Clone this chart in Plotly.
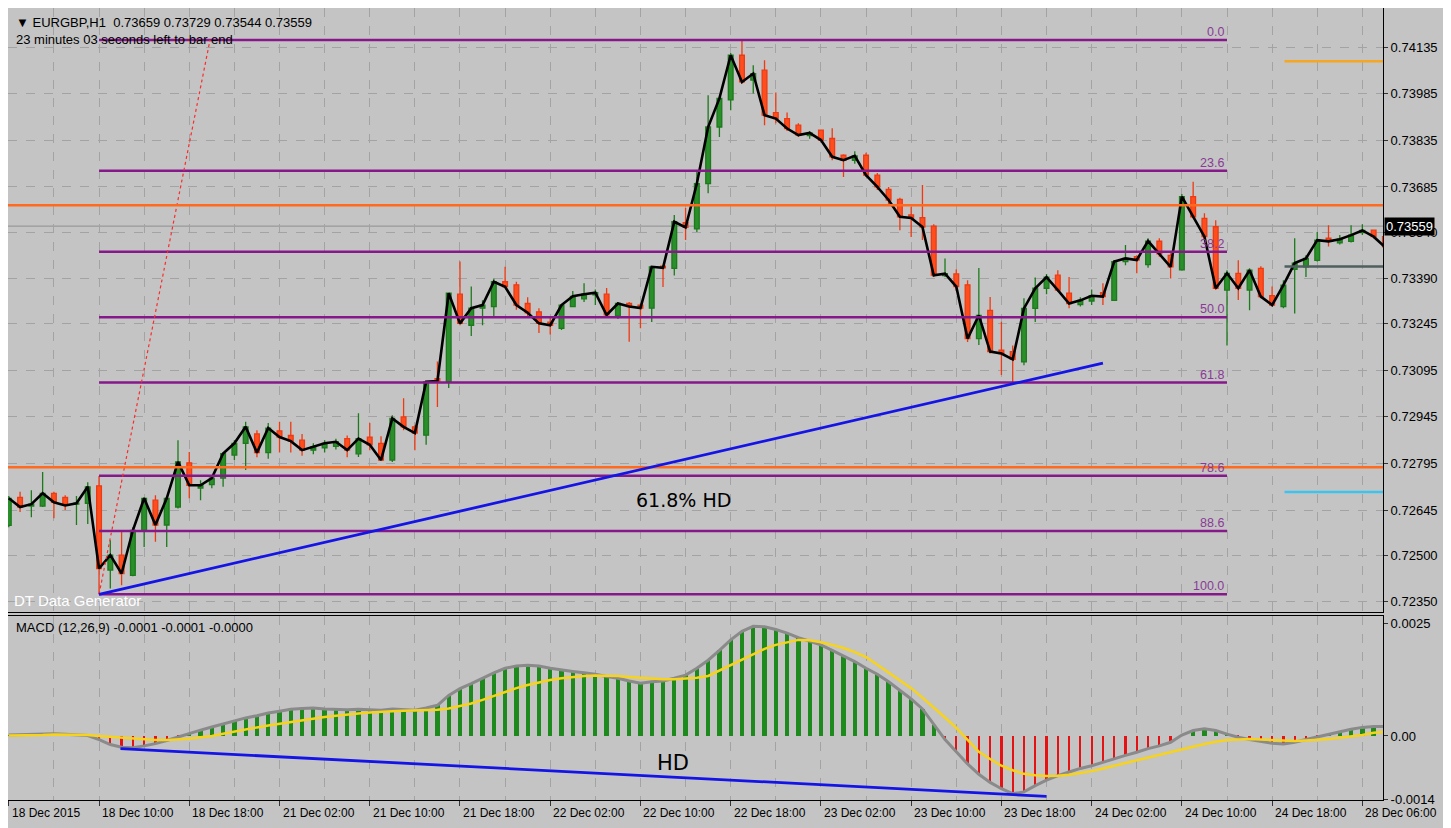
import plotly.graph_objects as go

# ---------------- data ----------------
bar_index = list(range(-8, 115))   # 0 = 18 Dec 10:00 (H1 bars)

open_ = [0.72596, 0.72686, 0.72658, 0.72658, 0.72699, 0.72686, 0.72664, 0.72667,
         0.72723, 0.72452, 0.72500, 0.72435, 0.72580, 0.72677, 0.72597, 0.72655,
         0.72797, 0.72716, 0.72727, 0.72748, 0.72822, 0.72860, 0.72890, 0.72830,
         0.72900, 0.72885, 0.72870, 0.72838, 0.72845, 0.72850, 0.72875, 0.72826,
         0.72880, 0.72860, 0.72806, 0.72945, 0.72913, 0.72886, 0.73068, 0.73058,
         0.73340, 0.73240, 0.73295, 0.73300, 0.73380, 0.73370, 0.73310, 0.73283,
         0.73250, 0.73230, 0.73300, 0.73325, 0.73338, 0.73340, 0.73270, 0.73310,
         0.73305, 0.73295, 0.73430, 0.73423, 0.73570, 0.73550, 0.73696, 0.73878,
         0.73965, 0.74109, 0.74029, 0.74061, 0.73924, 0.73905, 0.73884, 0.73850,
         0.73868, 0.73841, 0.73787, 0.73771, 0.73787, 0.73723, 0.73677, 0.73645,
         0.73595, 0.73586, 0.73559, 0.73400, 0.73405, 0.73370, 0.73197, 0.73288,
         0.73160, 0.73155, 0.73122, 0.73294, 0.73359, 0.73401, 0.73343, 0.73306,
         0.73318, 0.73345, 0.73320, 0.73445, 0.73461, 0.73435, 0.73511, 0.73465,
         0.73418, 0.73654, 0.73584, 0.73557, 0.73353, 0.73407, 0.73353, 0.73423,
         0.73335, 0.73300, 0.73420, 0.73428, 0.73449, 0.73520, 0.73505, 0.73510,
         0.73538, 0.73546, 0.73525]
high = [0.72690, 0.72704, 0.72709, 0.72768, 0.72704, 0.72693, 0.72690, 0.72735,
        0.72755, 0.72548, 0.72580, 0.72590, 0.72686, 0.72693, 0.72690, 0.72870,
        0.72832, 0.72741, 0.72758, 0.72830, 0.72870, 0.72929, 0.72902, 0.72925,
        0.72929, 0.72929, 0.72890, 0.72860, 0.72870, 0.72875, 0.72885, 0.72957,
        0.72925, 0.72883, 0.72950, 0.73005, 0.72918, 0.73060, 0.73123, 0.73345,
        0.73445, 0.73365, 0.73320, 0.73390, 0.73428, 0.73380, 0.73330, 0.73295,
        0.73270, 0.73308, 0.73350, 0.73375, 0.73355, 0.73360, 0.73315, 0.73315,
        0.73310, 0.73430, 0.73433, 0.73595, 0.73617, 0.73735, 0.73980, 0.73972,
        0.74116, 0.74158, 0.74077, 0.74093, 0.73989, 0.73925, 0.73890, 0.73865,
        0.73870, 0.73874, 0.73790, 0.73800, 0.73795, 0.73730, 0.73685, 0.73650,
        0.73621, 0.73691, 0.73565, 0.73455, 0.73420, 0.73385, 0.73424, 0.73331,
        0.73251, 0.73175, 0.73327, 0.73394, 0.73405, 0.73417, 0.73395, 0.73330,
        0.73355, 0.73375, 0.73450, 0.73498, 0.73465, 0.73520, 0.73520, 0.73472,
        0.73662, 0.73702, 0.73600, 0.73578, 0.73417, 0.73449, 0.73423, 0.73430,
        0.73365, 0.73385, 0.73520, 0.73465, 0.73540, 0.73562, 0.73530, 0.73562,
        0.73565, 0.73548, 0.73530]
low = [0.72590, 0.72639, 0.72622, 0.72655, 0.72619, 0.72645, 0.72597, 0.72600,
       0.72374, 0.72393, 0.72403, 0.72432, 0.72526, 0.72543, 0.72526, 0.72650,
       0.72683, 0.72677, 0.72715, 0.72720, 0.72806, 0.72774, 0.72815, 0.72810,
       0.72830, 0.72830, 0.72820, 0.72825, 0.72830, 0.72840, 0.72815, 0.72816,
       0.72838, 0.72806, 0.72800, 0.72902, 0.72838, 0.72855, 0.72977, 0.73038,
       0.73240, 0.73205, 0.73240, 0.73270, 0.73360, 0.73290, 0.73265, 0.73215,
       0.73210, 0.73225, 0.73298, 0.73315, 0.73305, 0.73270, 0.73260, 0.73187,
       0.73230, 0.73250, 0.73363, 0.73400, 0.73514, 0.73540, 0.73665, 0.73846,
       0.73932, 0.74018, 0.73986, 0.73884, 0.73890, 0.73865, 0.73846, 0.73840,
       0.73835, 0.73771, 0.73717, 0.73760, 0.73717, 0.73675, 0.73630, 0.73546,
       0.73524, 0.73514, 0.73395, 0.73395, 0.73350, 0.73186, 0.73176, 0.73149,
       0.73080, 0.73057, 0.73111, 0.73250, 0.73340, 0.73348, 0.73295, 0.73300,
       0.73305, 0.73305, 0.73318, 0.73433, 0.73407, 0.73425, 0.73460, 0.73390,
       0.73415, 0.73584, 0.73520, 0.73353, 0.73175, 0.73321, 0.73288, 0.73327,
       0.73300, 0.73295, 0.73278, 0.73395, 0.73445, 0.73493, 0.73500, 0.73506,
       0.73530, 0.73520, 0.73480]
close = [0.72683, 0.72655, 0.72664, 0.72699, 0.72670, 0.72660, 0.72667, 0.72720,
         0.72457, 0.72500, 0.72441, 0.72580, 0.72683, 0.72597, 0.72683, 0.72800,
         0.72725, 0.72725, 0.72748, 0.72827, 0.72860, 0.72913, 0.72830, 0.72909,
         0.72880, 0.72867, 0.72838, 0.72848, 0.72860, 0.72865, 0.72838, 0.72875,
         0.72855, 0.72806, 0.72940, 0.72913, 0.72893, 0.73058, 0.73060, 0.73343,
         0.73246, 0.73295, 0.73305, 0.73380, 0.73364, 0.73305, 0.73280, 0.73246,
         0.73240, 0.73305, 0.73333, 0.73340, 0.73345, 0.73273, 0.73310, 0.73300,
         0.73295, 0.73428, 0.73425, 0.73573, 0.73555, 0.73696, 0.73878, 0.73970,
         0.74109, 0.74023, 0.74050, 0.73916, 0.73905, 0.73873, 0.73852, 0.73859,
         0.73836, 0.73782, 0.73771, 0.73785, 0.73723, 0.73685, 0.73643, 0.73589,
         0.73585, 0.73556, 0.73401, 0.73406, 0.73364, 0.73197, 0.73272, 0.73155,
         0.73149, 0.73130, 0.73294, 0.73359, 0.73395, 0.73353, 0.73310, 0.73320,
         0.73335, 0.73332, 0.73445, 0.73455, 0.73450, 0.73511, 0.73470, 0.73428,
         0.73654, 0.73589, 0.73525, 0.73359, 0.73407, 0.73359, 0.73417, 0.73332,
         0.73305, 0.73369, 0.73440, 0.73455, 0.73514, 0.73510, 0.73517, 0.73530,
         0.73545, 0.73525, 0.73492]

macd_main = [0.00002, 0.00003, 0.00004, 0.00005, 0.00005, 0.00004, 0.00003, 0.00001,
             -0.00008, -0.00019, -0.00025, -0.00026, -0.00022, -0.00017, -0.00010, -0.00002,
             0.00006, 0.00013, 0.00020, 0.00027, 0.00033, 0.00040, 0.00045, 0.00051,
             0.00055, 0.00059, 0.00061, 0.00062, 0.00060, 0.00059, 0.00058, 0.00059,
             0.00058, 0.00057, 0.00060, 0.00059, 0.00057, 0.00062, 0.00068, 0.00090,
             0.00105, 0.00116, 0.00128, 0.00140, 0.00150, 0.00155, 0.00157, 0.00155,
             0.00150, 0.00146, 0.00143, 0.00140, 0.00137, 0.00132, 0.00128, 0.00122,
             0.00117, 0.00120, 0.00122, 0.00128, 0.00135, 0.00150, 0.00168, 0.00190,
             0.00213, 0.00232, 0.00243, 0.00242, 0.00236, 0.00228, 0.00218, 0.00210,
             0.00202, 0.00190, 0.00178, 0.00165, 0.00150, 0.00137, 0.00120, 0.00102,
             0.00082, 0.00060, 0.00025, -0.00008, -0.00035, -0.00062, -0.00085, -0.00103,
             -0.00117, -0.00128, -0.00124, -0.00110, -0.00098, -0.00088, -0.00080, -0.00072,
             -0.00066, -0.00058, -0.00050, -0.00043, -0.00036, -0.00028, -0.00022, -0.00014,
             0.00002, 0.00012, 0.00016, 0.00012, 0.00004, -0.00003, -0.00008, -0.00012,
             -0.00016, -0.00018, -0.00014, -0.00008, -0.00002, 0.00004, 0.00010, 0.00015,
             0.00019, 0.00021, 0.00021]
macd_signal = [0.00001, 0.00001, 0.00002, 0.00002, 0.00003, 0.00003, 0.00003, 0.00002,
               0.00000, -0.00002, -0.00004, -0.00006, -0.00008, -0.00009, -0.00009, -0.00008,
               -0.00006, -0.00003, 0.00000, 0.00005, 0.00010, 0.00014, 0.00019, 0.00023,
               0.00027, 0.00031, 0.00035, 0.00039, 0.00042, 0.00045, 0.00048, 0.00050,
               0.00052, 0.00054, 0.00055, 0.00056, 0.00057, 0.00057, 0.00058, 0.00061,
               0.00066, 0.00072, 0.00080, 0.00089, 0.00098, 0.00106, 0.00113, 0.00119,
               0.00124, 0.00128, 0.00131, 0.00133, 0.00134, 0.00134, 0.00133, 0.00131,
               0.00129, 0.00127, 0.00126, 0.00126, 0.00127, 0.00129, 0.00133, 0.00145,
               0.00157, 0.00170, 0.00182, 0.00193, 0.00202, 0.00208, 0.00213, 0.00212,
               0.00208, 0.00202, 0.00195, 0.00186, 0.00175, 0.00158, 0.00140, 0.00123,
               0.00106, 0.00085, 0.00064, 0.00041, 0.00018, -0.00008, -0.00035, -0.00051,
               -0.00066, -0.00076, -0.00084, -0.00087, -0.00089, -0.00088, -0.00086, -0.00082,
               -0.00078, -0.00072, -0.00066, -0.00060, -0.00053, -0.00048, -0.00042, -0.00035,
               -0.00029, -0.00023, -0.00018, -0.00013, -0.00009, -0.00008, -0.00007, -0.00008,
               -0.00009, -0.00010, -0.00011, -0.00010, -0.00009, -0.00007, -0.00004, -0.00001,
               0.00002, 0.00007, 0.00009]

price_ticks = [0.74135, 0.73985, 0.73835, 0.73685, 0.73540, 0.73390, 0.73245,
               0.73095, 0.72945, 0.72795, 0.72645, 0.72500, 0.72350]
macd_ticks = [0.0025, 0.0, -0.0014]
macd_tick_text = ["0.0025", "0.00", "-0.0014"]

time_tick_idx = [-8, 0, 8, 16, 24, 32, 40, 48, 56, 64, 72, 80, 88, 96, 104, 112]
time_tick_text = ["18 Dec 2015", "18 Dec 10:00", "18 Dec 18:00", "21 Dec 02:00",
                  "21 Dec 10:00", "21 Dec 18:00", "22 Dec 02:00", "22 Dec 10:00",
                  "22 Dec 18:00", "23 Dec 02:00", "23 Dec 10:00", "23 Dec 18:00",
                  "24 Dec 02:00", "24 Dec 10:00", "24 Dec 18:00", "28 Dec 06:00"]

fib_high = 0.74158
fib_low = 0.72374
fib_x = [0, 100]
fib_ratio_end = 9.84
fib_levels = [0.0, 23.6, 38.2, 50.0, 61.8, 78.6, 88.6, 100.0]

orange_levels = [0.73626, 0.72783]
bid_price = 0.73559
trend_price = [(0, 0.72374), (89.0, 0.73118)]
trend_macd = [(1.9, -0.00028), (84.0, -0.00134)]
short_levels = [(0.74090, "#F5A623"), (0.72703, "#3EC3EE"), (0.73429, "#4F5F5F")]
short_start = 105.1

header = "▼ EURGBP,H1  0.73659 0.73729 0.73544 0.73559"
timer = "23 minutes 03 seconds left to bar end"
macd_label = "MACD (12,26,9) -0.0001 -0.0001 -0.0000"

# ---------------- styling ----------------
BG = "#C4C4C4"
GRID = "#A3A3A3"
FONT = "Liberation Sans"
PURPLE = "#86198A"
XR = [-8.07, 113.83]

fig = go.Figure()

fig.add_trace(go.Candlestick(
    x=bar_index, open=open_, high=high, low=low, close=close,
    increasing=dict(line=dict(color="#1C7A1C", width=1.3), fillcolor="#2A8E2A"),
    decreasing=dict(line=dict(color="#EE3A12", width=1.3), fillcolor="#FF4E1E"),
    whiskerwidth=0, xaxis="x", yaxis="y", showlegend=False, hoverinfo="skip"))

fig.add_trace(go.Scatter(x=bar_index, y=close, mode="lines",
                         line=dict(color="black", width=2.6),
                         xaxis="x", yaxis="y", showlegend=False, hoverinfo="skip"))

hist_colors = ["#1E8A1E" if v >= 0 else "#E41212" for v in macd_main]
hist_widths = [0.38 if v >= 0 else 0.2 for v in macd_main]
fig.add_trace(go.Bar(x=bar_index, y=macd_main, marker=dict(color=hist_colors, line=dict(width=0)),
                     width=hist_widths, xaxis="x2", yaxis="y2", showlegend=False, hoverinfo="skip"))
fig.add_trace(go.Scatter(x=bar_index, y=macd_main, mode="lines",
                         line=dict(color="#8A8A8A", width=3),
                         xaxis="x2", yaxis="y2", showlegend=False, hoverinfo="skip"))
fig.add_trace(go.Scatter(x=bar_index, y=macd_signal, mode="lines",
                         line=dict(color="#F7D31C", width=2.5),
                         xaxis="x2", yaxis="y2", showlegend=False, hoverinfo="skip"))

shapes = []
# bid line
shapes.append(dict(type="line", xref="paper", yref="y", x0=0, x1=1, y0=bid_price, y1=bid_price,
                   line=dict(color="#8E8E8E", width=1), layer="below"))
# fibonacci levels
fib_range = fib_high - fib_low
annotations = []
for lv in fib_levels:
    p = fib_high - lv / 100.0 * fib_range
    shapes.append(dict(type="line", xref="x", yref="y", x0=fib_x[0], x1=fib_x[1], y0=p, y1=p,
                       line=dict(color=PURPLE, width=2.5)))
    annotations.append(dict(x=fib_x[1], y=p, xref="x", yref="y", text=f"{lv:.1f}",
                            showarrow=False, xanchor="right", yanchor="bottom", xshift=-1, yshift=-1,
                            font=dict(family=FONT, size=12.5, color="#8A3A96")))
# fib trend (dotted)
shapes.append(dict(type="line", xref="x", yref="y", x0=fib_x[0], x1=fib_ratio_end, y0=fib_low, y1=fib_high,
                   line=dict(color="#FF2A2A", width=1.2, dash="dot")))
# orange horizontal levels
for p in orange_levels:
    shapes.append(dict(type="line", xref="paper", yref="y", x0=0, x1=1, y0=p, y1=p,
                       line=dict(color="#FF6A1E", width=2.5)))
# short lines at right
for p, c in short_levels:
    shapes.append(dict(type="line", xref="x", yref="y", x0=short_start, x1=XR[1], y0=p, y1=p,
                       line=dict(color=c, width=2.5)))
# trendlines
shapes.append(dict(type="line", xref="x", yref="y", x0=trend_price[0][0], y0=trend_price[0][1],
                   x1=trend_price[1][0], y1=trend_price[1][1], line=dict(color="#1414E6", width=2.8)))
shapes.append(dict(type="line", xref="x2", yref="y2", x0=trend_macd[0][0], y0=trend_macd[0][1],
                   x1=trend_macd[1][0], y1=trend_macd[1][1], line=dict(color="#1414E6", width=2.8)))

# texts
annotations += [
    dict(x=0.0044, y=0.9823, xref="paper", yref="paper", text=header, showarrow=False,
         xanchor="left", yanchor="middle", font=dict(family=FONT, size=13, color="black")),
    dict(x=0.0044, y=0.9596, xref="paper", yref="paper", text=timer, showarrow=False,
         xanchor="left", yanchor="middle", font=dict(family=FONT, size=13, color="black")),
    dict(x=0.003, y=0.2525, xref="paper", yref="paper", text="DT Data Generator", showarrow=False,
         xanchor="left", yanchor="middle", font=dict(family=FONT, size=15, color="white")),
    dict(x=0.0044, y=0.2184, xref="paper", yref="paper", text=macd_label, showarrow=False,
         xanchor="left", yanchor="middle", font=dict(family=FONT, size=13, color="black")),
    dict(x=51.8, y=0.72677, xref="x", yref="y", text="61.8% HD", showarrow=False,
         xanchor="center", yanchor="middle", font=dict(family="DejaVu Sans", size=19, color="black")),
    dict(x=50.9, y=-0.0006, xref="x2", yref="y2", text="HD", showarrow=False,
         xanchor="center", yanchor="middle", font=dict(family="DejaVu Sans", size=21, color="black")),
    dict(x=1.0, y=bid_price, xref="paper", yref="y", text="0.73559", showarrow=False,
         xanchor="left", yanchor="middle", xshift=1, bgcolor="black", borderpad=1,
         font=dict(family=FONT, size=13, color="white")),
]
for k, t in zip(time_tick_idx, time_tick_text):
    annotations.append(dict(x=k, y=0, xref="x2", yref="paper", text=t, showarrow=False,
                            xanchor="left", yanchor="top", xshift=1, yshift=-4,
                            font=dict(family=FONT, size=12, color="black")))

# page body adds an 8px offset, so the figure is 8px smaller and has no left/top margin
fig.update_layout(
    width=1443, height=820,
    margin=dict(l=0, r=68, t=0, b=28),
    paper_bgcolor=BG, plot_bgcolor=BG,
    boxgap=0.4, bargap=0,
    showlegend=False,
    shapes=shapes, annotations=annotations,
    font=dict(family=FONT, size=12, color="black"),
    xaxis=dict(domain=[0, 1], range=XR, anchor="y", tickmode="linear", tick0=-8, dtick=4,
               showticklabels=False, ticks="", showgrid=True, gridcolor=GRID, griddash="dash",
               gridwidth=1, showline=True, linecolor="black", linewidth=1, mirror=True,
               zeroline=False, rangeslider=dict(visible=False)),
    yaxis=dict(domain=[0.23737, 1], range=[0.72317, 0.74261], side="right", anchor="x",
               tickmode="array", tickvals=price_ticks, ticktext=[f"{v:.5f}" for v in price_ticks],
               ticks="outside", ticklen=4, tickcolor="#333333", showgrid=True, gridcolor=GRID,
               griddash="dash", showline=True, linecolor="black", linewidth=1, mirror=True,
               zeroline=False, tickfont=dict(family=FONT, size=13, color="black")),
    xaxis2=dict(domain=[0, 1], range=XR, anchor="y2", matches="x", tickmode="array",
                tickvals=time_tick_idx, ticktext=["" for _ in time_tick_idx], ticks="outside",
                ticklen=5, tickcolor="#333333", showgrid=True, gridcolor=GRID, griddash="dash",
                minor=dict(tick0=-8, dtick=4, showgrid=True, gridcolor=GRID, griddash="dash", ticks=""),
                showline=True, linecolor="black", linewidth=1, mirror=True, zeroline=False),
    yaxis2=dict(domain=[0, 0.23232], range=[-0.00142, 0.00266], side="right", anchor="x2",
                tickmode="array", tickvals=macd_ticks, ticktext=macd_tick_text,
                ticks="outside", ticklen=4, tickcolor="#333333", showgrid=False,
                showline=True, linecolor="black", linewidth=1, mirror=True, zeroline=False,
                tickfont=dict(family=FONT, size=13, color="black")),
)

fig.write_html("out.html")
